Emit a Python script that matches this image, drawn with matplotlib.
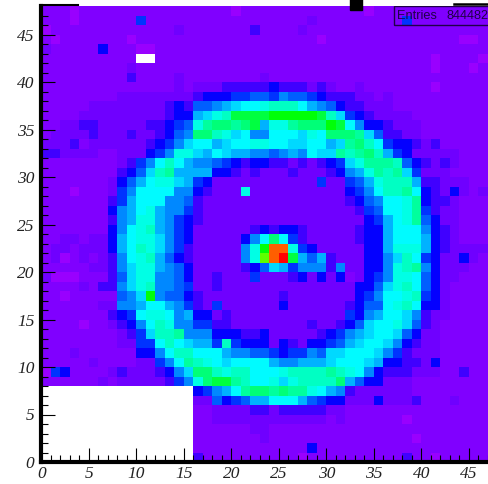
#!/usr/bin/env python3

import colorsys
import numpy as np
import matplotlib
matplotlib.use("Agg")
import matplotlib.pyplot as plt
from matplotlib.colors import ListedColormap
from matplotlib.patches import Rectangle

# estimated colour level of each bin, top row (y=47) first, 0 = empty bin
ROWS_TOP = [
    [2,2,2,1,2,2,2,2, 2,2,2,2,2,2,2,2, 2,2,2,2,1,2,2,2, 2,2,2,2,2,2,2,2, 2,2,1,2,2,2,2,2, 2,2,2,2,2,2,2,2],
    [2,2,2,1,2,2,2,2, 2,2,6,2,2,2,2,2, 2,2,2,2,2,2,2,2, 2,2,2,2,3,2,2,2, 2,2,2,2,2,2,6,2, 2,2,2,2,2,2,2,2],
    [1,2,2,2,2,2,2,2, 2,2,2,2,2,2,3,2, 2,2,2,2,2,2,4,2, 2,2,2,3,2,2,2,2, 2,2,2,2,2,2,2,2, 2,2,2,2,2,2,2,2],
    [2,1,2,2,2,2,2,2, 2,1,2,2,2,2,2,2, 2,2,2,2,2,2,2,2, 2,2,2,2,2,1,2,2, 2,2,2,2,2,2,2,2, 2,2,2,2,1,1,2,2],
    [3,2,2,2,2,2,5,2, 2,2,1,1,2,2,2,2, 2,2,2,2,2,2,2,2, 2,2,2,2,2,2,2,2, 2,2,2,2,2,2,2,2, 2,2,2,2,2,2,2,2],
    [2,2,2,2,2,2,2,2, 2,2,0,0,2,2,2,2, 2,2,2,2,2,2,2,2, 2,2,2,2,2,2,2,2, 2,2,2,2,2,2,2,2, 2,1,2,2,2,2,1,2],
    [2,2,2,2,2,2,2,2, 2,3,2,2,2,2,2,2, 2,2,2,2,2,2,2,2, 2,2,2,2,2,2,2,2, 2,2,2,2,2,2,2,2, 2,1,2,2,2,1,2,2],
    [2,2,2,2,2,2,2,2, 2,4,2,2,2,2,3,2, 2,2,2,2,2,2,2,3, 2,2,2,2,2,2,2,2, 2,2,2,2,2,2,2,2, 2,2,2,2,2,2,2,2],
    [2,2,2,2,2,2,2,2, 2,2,2,2,2,2,3,2, 3,3,3,4,4,4,4,4, 5,4,4,4,3,4,3,2, 2,3,2,2,2,2,2,2, 2,1,2,2,2,2,2,2],
    [2,2,2,2,2,2,2,2, 3,3,3,3,3,3,3,3, 4,5,5,5,6,6,7,7, 6,8,7,7,6,5,4,4, 4,3,3,2,3,2,2,2, 2,2,2,2,2,2,2,2],
    [2,2,2,2,2,3,3,3, 3,3,3,3,3,4,5,4, 7,7,8,9,10,11,11,12, 13,13,13,11,9,8,7,5, 4,4,3,3,3,2,2,2, 2,2,2,2,2,2,2,2],
    [2,2,2,2,3,3,3,3, 3,3,3,3,3,4,5,5, 9,10,12,13,16,16,16,16, 17,17,17,17,17,16,13,10, 6,5,4,3,3,3,3,2, 2,2,2,2,2,2,2,2],
    [2,2,3,3,4,4,3,3, 3,3,3,4,4,5,6,7, 12,14,15,15,14,15,16,9, 12,12,14,15,15,15,17,16, 11,8,5,5,4,3,3,3, 2,2,2,2,2,2,2,2],
    [2,3,3,3,3,4,3,3, 3,4,3,3,4,5,7,8, 15,15,13,12,10,11,8,8, 11,11,11,10,12,11,15,15, 15,14,10,7,4,4,3,3, 2,2,2,2,2,2,2,2],
    [3,3,3,4,2,3,3,3, 3,3,3,4,5,6,8,10, 11,11,9,10,11,11,12,12, 11,11,10,10,11,11,9,10, 14,15,13,11,6,5,5,4, 3,4,2,2,2,2,2,2],
    [4,4,3,3,3,3,2,2, 3,3,3,5,6,8,12,12, 10,9,11,10,9,9,8,8, 7,8,9,8,11,10,10,14, 13,14,15,13,9,6,5,3, 3,3,3,3,2,2,2,2],
    [2,2,2,2,2,2,2,2, 3,4,6,8,11,13,11,9, 8,8,7,6,5,4,5,5, 4,4,3,4,3,4,5,6, 10,12,14,14,14,13,7,5, 4,3,4,3,2,2,2,2],
    [2,2,2,2,2,2,2,2, 4,5,7,10,13,14,9,9, 9,9,5,5,4,3,4,3, 3,3,4,3,3,3,4,5, 8,9,12,14,13,14,10,6, 3,3,3,2,2,2,2,2],
    [2,2,2,2,2,2,2,3, 5,7,9,11,12,12,10,9, 6,5,3,3,3,3,3,3, 3,3,3,3,3,6,3,3, 6,7,9,12,13,13,13,9, 4,4,3,3,3,2,2,2],
    [2,2,2,1,2,2,2,3, 6,8,11,11,11,11,8,8, 5,4,3,3,3,12,3,3, 3,3,3,3,3,3,3,3, 5,6,8,11,13,13,14,11, 5,4,3,5,3,2,3,2],
    [2,2,2,2,2,2,2,4, 6,9,11,11,11,8,8,7, 4,3,3,3,3,3,3,3, 3,3,3,3,3,3,3,3, 4,5,7,8,11,11,12,14, 5,4,4,3,2,2,2,2],
    [2,2,2,2,2,2,2,5, 8,9,11,12,9,8,8,6, 4,3,3,3,3,3,3,3, 3,3,3,3,3,3,3,3, 3,4,6,7,11,11,12,14, 6,4,3,3,2,2,2,2],
    [2,2,2,2,2,2,2,4, 8,9,12,12,9,8,6,5, 4,3,3,3,3,3,3,3, 3,3,3,3,3,3,3,3, 3,3,5,6,9,11,12,14, 7,5,3,3,2,2,2,2],
    [2,2,2,2,2,2,2,5, 8,11,12,13,9,8,6,5, 3,3,3,3,3,3,4,5, 4,5,5,4,3,3,3,3, 3,4,5,5,9,11,11,11, 8,5,4,3,2,2,2,2],
    [2,2,3,3,2,3,3,5, 9,11,12,12,10,8,6,5, 3,3,3,3,3,5,8,11, 15,11,6,4,3,3,3,3, 3,4,5,5,9,11,11,11, 9,5,4,3,2,2,2,2],
    [2,3,3,2,3,3,3,5, 9,11,13,12,10,8,6,4, 3,3,3,3,3,8,12,17, 26,26,12,6,5,3,3,3, 3,3,5,5,9,12,12,12, 9,5,4,3,3,3,3,2],
    [2,3,1,2,3,2,3,4, 8,11,12,13,9,7,5,4, 3,3,3,3,3,8,12,19, 26,29,16,9,7,9,4,3, 3,3,5,5,8,10,13,11, 6,5,3,3,5,3,2,2],
    [2,2,2,2,2,3,3,4, 8,10,12,12,9,8,7,5, 3,3,3,3,3,4,5,7, 10,9,6,8,8,8,4,8, 3,3,5,5,8,12,13,14, 8,5,3,3,3,2,2,2],
    [3,1,1,1,2,2,2,4, 7,10,12,12,8,8,7,5, 3,3,4,3,3,3,6,3, 3,3,4,5,3,5,3,5, 2,3,5,6,8,12,12,11, 7,5,3,3,2,2,2,2],
    [2,2,2,2,3,2,4,4, 8,10,12,13,8,8,7,6, 3,3,4,3,3,3,3,3, 3,3,3,3,3,3,3,3, 3,5,5,7,10,12,13,11, 7,5,3,2,2,2,2,2],
    [2,2,1,2,2,2,2,2, 7,8,10,17,8,7,7,5, 4,3,3,3,3,3,3,3, 3,4,3,3,3,3,3,3, 3,5,6,8,11,11,12,13, 6,5,3,2,2,2,2,2],
    [2,2,2,2,2,2,3,3, 8,8,9,11,11,9,8,6, 4,3,6,3,3,3,3,3, 3,5,3,3,3,3,3,3, 4,5,7,7,11,12,13,11, 5,5,3,2,2,2,2,2],
    [2,2,2,2,2,2,2,4, 5,6,11,12,12,11,8,9, 5,5,3,4,3,3,3,3, 3,3,3,3,3,3,3,3, 6,5,8,9,11,11,10,8, 4,3,3,2,2,2,2,2],
    [2,2,2,2,1,2,2,3, 4,5,8,11,13,12,8,8, 6,6,4,4,3,3,3,3, 3,3,3,3,4,3,3,4, 5,7,10,11,11,12,10,7, 4,3,2,2,2,2,2,2],
    [2,2,2,2,2,2,2,2, 3,4,6,10,13,13,14,8, 8,8,5,5,5,4,4,5, 3,3,3,3,3,4,5,6, 8,9,10,11,11,10,7,5, 3,3,2,2,2,2,2,2],
    [2,2,2,2,2,2,2,2, 3,3,6,6,11,13,11,10, 9,9,6,13,6,5,5,5, 3,5,4,3,5,5,6,7, 9,10,11,11,10,8,5,4, 3,3,2,2,2,2,2,2],
    [2,2,2,3,2,2,2,2, 2,2,5,5,8,11,13,13, 11,11,11,9,8,8,7,7, 6,5,6,6,8,7,10,10, 11,11,11,10,8,6,4,3, 3,3,2,2,2,2,2,2],
    [2,2,2,2,2,3,2,2, 2,2,3,3,6,8,11,14, 13,12,11,10,11,11,11,11, 9,8,8,9,9,9,10,11, 11,11,10,9,5,5,4,4, 3,5,2,2,2,2,2,2],
    [1,6,5,2,2,2,2,3, 4,3,3,3,4,5,8,10, 15,15,13,12,13,13,11,11, 11,12,13,13,13,13,14,13, 12,11,8,5,4,4,4,3, 3,3,2,2,4,2,2,2],
    [2,2,2,2,2,2,3,2, 3,3,3,3,3,4,6,8, 12,15,16,16,14,13,11,11, 12,10,12,13,13,13,13,15, 9,7,5,5,3,3,3,2, 2,2,2,2,2,2,2,2],
    [0,0,0,0,0,0,0,0, 0,0,0,0,0,0,0,0, 5,6,8,9,11,14,15,15, 14,15,14,14,12,11,9,8, 4,3,3,3,3,3,3,2, 2,2,2,2,2,2,2,2],
    [0,0,0,0,0,0,0,0, 0,0,0,0,0,0,0,0, 3,3,7,5,6,7,9,9, 11,11,11,9,7,6,5,5, 3,3,3,5,3,3,3,4, 2,2,2,3,2,2,2,2],
    [0,0,0,0,0,0,0,0, 0,0,0,0,0,0,0,0, 2,2,3,3,3,3,4,4, 3,4,4,4,4,4,3,3, 2,2,2,2,2,2,2,2, 2,2,2,2,2,2,2,2],
    [0,0,0,0,0,0,0,0, 0,0,0,0,0,0,0,0, 2,2,3,3,3,3,3,3, 3,3,3,3,3,3,2,3, 2,2,2,2,2,2,1,2, 2,2,2,2,2,2,2,2],
    [0,0,0,0,0,0,0,0, 0,0,0,0,0,0,0,0, 2,2,2,2,2,2,3,3, 2,2,2,2,2,2,2,2, 2,2,2,2,2,2,2,2, 2,2,2,2,2,2,2,2],
    [0,0,0,0,0,0,0,0, 0,0,0,0,0,0,0,0, 2,2,2,2,2,2,2,3, 2,2,2,2,2,2,2,2, 2,2,2,2,2,2,2,1, 2,2,2,2,2,2,2,2],
    [0,0,0,0,0,0,0,0, 0,0,0,0,0,0,0,0, 2,2,2,2,2,2,2,2, 2,2,2,2,5,2,2,2, 2,2,2,2,2,2,2,2, 2,2,2,2,2,2,2,2],
    [0,0,0,0,0,0,0,0, 0,0,0,0,0,0,0,0, 4,2,2,2,2,2,2,2, 2,2,2,1,2,2,2,2, 2,2,2,2,2,2,4,2, 2,1,2,2,2,2,2,2],
]
# hue in degrees for levels 1, 2, 3 ... (violet to red)
LEVEL_HUES = [276, 270, 266, 255, 241, 228, 218, 208, 198, 189, 181, 174, 166, 157, 148, 135,
              122, 110, 98, 85, 72, 60, 45, 35, 28, 22, 14, 7, 0]
MAJOR_TICKS = [0, 5, 10, 15, 20, 25, 30, 35, 40, 45]
MINOR_TICKS = list(range(48))
STATS_NAME = "Entries"
STATS_VALUE = "844482"


def rainbow_palette():
    colors = [colorsys.hsv_to_rgb(hue / 360, 1, 1) for hue in LEVEL_HUES]
    cmap = ListedColormap(colors)
    cmap.set_bad("white")
    return cmap


def main():
    grid = np.array(ROWS_TOP)[::-1]
    fig = plt.figure(figsize=(4.89, 4.84), dpi=100)
    ax = fig.add_axes([41.5 / 489, 22 / 484, 456 / 489, 456 / 484])

    ax.pcolormesh(np.ma.masked_equal(grid, 0), cmap=rainbow_palette(), vmin=0.5, vmax=29.5)
    ax.set_xlim(0, 48)
    ax.set_ylim(0, 48)

    for name in ['top', 'right']:
        ax.spines[name].set_visible(False)
    for name in ['left', 'bottom']:
        ax.spines[name].set_linewidth(3)

    ax.set_xticks(MAJOR_TICKS)
    ax.set_yticks(MAJOR_TICKS)
    ax.set_xticks(MINOR_TICKS, minor=True)
    ax.set_yticks(MINOR_TICKS, minor=True)
    ax.tick_params(which='major', direction='in', length=10, width=0.8, pad=5, labelcolor='#222222')
    ax.tick_params(which='minor', direction='in', length=5, width=0.8)
    ax.tick_params(axis='x', which='major', pad=3)
    for lab in ax.get_xticklabels(which='major') + ax.get_yticklabels(which='major'):
        lab.set_fontfamily('Liberation Serif')
        lab.set_fontstyle('italic')
        lab.set_fontsize(12.5)

    # leftovers of the frame along the top edge
    ax.plot([0, 3.8], [48.1, 48.1], color='black', lw=1.5, clip_on=False)
    ax.plot([43.4, 48], [48.2, 48.2], color='black', lw=1.8, clip_on=False)
    ax.add_patch(Rectangle((32.5, 47.6), 1.25, 1.2, color='black', clip_on=False, zorder=5))

    # stats box
    ax.add_patch(Rectangle((37.1, 46.0), 11, 1.95, fill=False, ec='#20004a', lw=1.0, zorder=5))
    ax.text(37.45, 46.95, STATS_NAME, fontsize=9.2, family='Liberation Sans',
            color='#20004a', va='center', ha='left', zorder=6)
    ax.text(47.05, 46.95, STATS_VALUE, fontsize=9.2, family='Liberation Sans',
            color='#20004a', va='center', ha='right', zorder=6)

    fig.savefig('out.png', dpi=100)


if __name__ == '__main__':
    main()
